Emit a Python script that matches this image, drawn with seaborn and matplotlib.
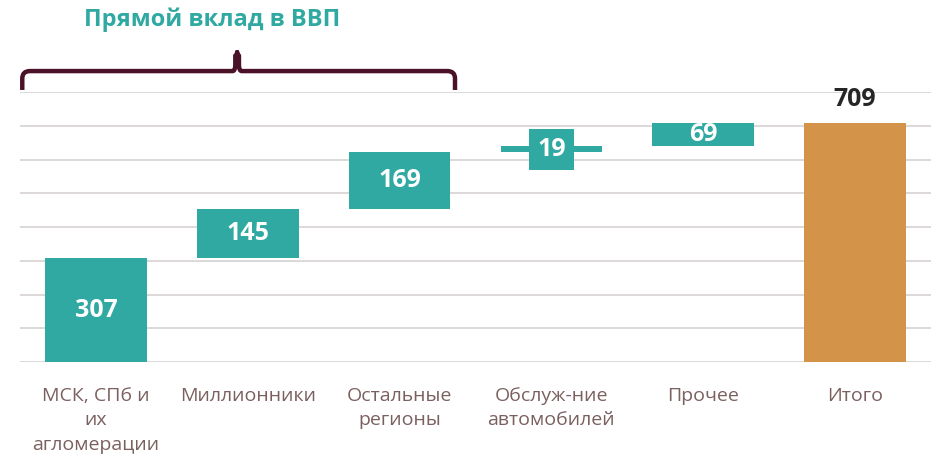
import numpy as np
import matplotlib
matplotlib.use("Agg")
import matplotlib.pyplot as plt
from matplotlib.path import Path
from matplotlib.patches import PathPatch
import seaborn as sns

# данные водопада
categories = ["МСК, СПб и\nих\nагломерации", "Миллионники", "Остальные\nрегионы",
              "Обслуж-ние\nавтомобилей", "Прочее", "Итого"]
values = [307, 145, 169, 19, 69, 709]
labels = ["307", "145", "169", "19", "69", "709"]

bottoms = np.concatenate([[0], np.cumsum(values[:-2])]).tolist() + [0]

teal = "#2fa9a1"
orange = "#d3944a"
maroon = "#4b1129"
tick_color = "#7b6060"

sns.set_theme(style="whitegrid")
plt.rcParams['font.family'] = ['Open Sans', 'DejaVu Sans']

fig = plt.figure(figsize=(9.36, 4.62), dpi=100)
ax = fig.add_axes([20 / 936, 100 / 462, 911 / 936, 270 / 462])

sns.barplot(x=categories, y=values, bottom=bottoms, color=teal, saturation=1,
            width=0.67, errorbar=None, linewidth=0, ax=ax)
ax.patches[-1].set_facecolor(orange)

ax.set_xlim(-0.5, 5.5)
ax.set_ylim(0, 800)
ax.set_yticks(range(0, 801, 100))
ax.set_yticklabels([])
ax.grid(axis='y', color='#ddd8d8', linewidth=1.4)
ax.grid(axis='x', visible=False)
for s in ax.spines.values():
    s.set_visible(False)
ax.tick_params(axis='x', length=0, pad=18, labelsize=14, labelcolor=tick_color)
ax.tick_params(axis='y', length=0)
ax.set_xlabel("")
ax.set_ylabel("")
for t in ax.get_xticklabels():
    t.set_linespacing(1.45)

# подписи значений
for i, (v, b, lab) in enumerate(zip(values, bottoms, labels)):
    if i == len(values) - 1:
        ax.text(i, v + 70, lab, ha='center', va='center', fontsize=18,
                fontweight='bold', color='#262626')
    elif v < 30:
        ax.text(i, b + v / 2, lab, ha='center', va='center', fontsize=18,
                fontweight='bold', color='white',
                bbox=dict(boxstyle='square,pad=0.32', fc=teal, ec='none'))
    else:
        ax.text(i, b + v / 2, lab, ha='center', va='center', fontsize=18,
                fontweight='bold', color='white')

# фигурная скобка над первыми тремя столбцами
L, R, M = -0.485, 2.365, 0.93
yb, yt, ys = 806, 862, 918
rx, ry = 0.05, 22
verts = [(L, yb), (L, yt - ry), (L, yt), (L + rx, yt),
         (M - 0.03, yt), (M - 0.012, yt), (M - 0.012, yt + 18), (M - 0.012, ys - 10),
         (M, ys - 10), (M, ys), (M, ys - 10), (M + 0.012, ys - 10),
         (M + 0.012, yt + 18), (M + 0.012, yt), (M + 0.03, yt),
         (R - rx, yt), (R, yt), (R, yt - ry), (R, yb)]
codes = [Path.MOVETO, Path.LINETO, Path.CURVE3, Path.CURVE3,
         Path.LINETO, Path.CURVE3, Path.CURVE3, Path.LINETO,
         Path.LINETO, Path.LINETO, Path.LINETO, Path.LINETO,
         Path.LINETO, Path.CURVE3, Path.CURVE3,
         Path.LINETO, Path.CURVE3, Path.CURVE3, Path.LINETO]
ax.add_patch(PathPatch(Path(verts, codes), fc='none', ec=maroon, lw=3.2,
                       joinstyle='round', capstyle='butt', clip_on=False))

ax.text(0.765, 1013, "Прямой вклад в ВВП", ha='center', va='center',
        fontsize=17, fontweight='bold', color=teal, clip_on=False)

fig.savefig("out.png", dpi=100)
